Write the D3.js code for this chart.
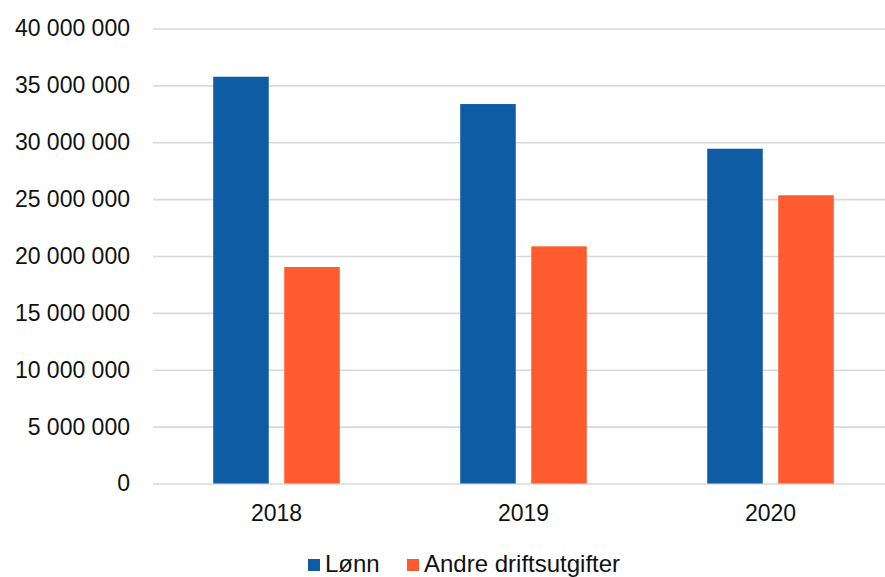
<!DOCTYPE html>
<html>
<head>
<meta charset="utf-8">
<script src="https://cdn.jsdelivr.net/npm/d3@7"></script>
<style>
  body { margin: 0; background: #fff; }
  svg { display: block; font-family: "Liberation Sans", Arial, sans-serif; }
</style>
</head>
<body>
<div id="chart"></div>
<script>
// data
const years = ["2018", "2019", "2020"]
const series = ["Lønn", "Andre driftsutgifter"]
const lonn = [35760000, 33360000, 29430000]
const andre = [19030000, 20850000, 25340000]
const yTicks = [0, 5000000, 10000000, 15000000, 20000000, 25000000, 30000000, 35000000, 40000000]

const colors = ["#0e5ca4", "#ff5b30"]

const W = 885, H = 577
const margin = {top: 28.5, left: 153, bottom: 93.5}
const plotRight = 894 // gridlines run off the right edge of the picture

const svg = d3.select("#chart")
  .append("svg")
  .attr("width", W)
  .attr("height", H)

const nb = d3.formatLocale({decimal: ",", thousands: " ", grouping: [3], currency: ["", ""]})
const fmt = nb.format(",")

// scales
const x = d3.scaleBand()
  .domain(years)
  .range([margin.left, plotRight])
  .padding(0)

const xSub = d3.scaleBand()
  .domain(series)
  .range([0, x.bandwidth()])
  .paddingInner(0.218)
  .paddingOuter(0.848)

const y = d3.scaleLinear()
  .domain([0, 40000000])
  .range([H - margin.bottom, margin.top])

// gridlines + y labels
const yAxis = svg.append("g")
  .attr("transform", `translate(${margin.left},0)`)
  .call(d3.axisLeft(y).tickValues(yTicks).tickFormat(fmt).tickSize(-(plotRight - margin.left)).tickPadding(23))
yAxis.select(".domain").remove()
yAxis.selectAll(".tick line")
  .attr("stroke", "#d9d9d9")
  .attr("stroke-width", 1.6)
yAxis.selectAll(".tick text")
  .attr("fill", "#111")
  .style("font-size", "23px")
  .style("font-family", "Liberation Sans, Arial, sans-serif")

// bars
const rows = years.map((yr, i) => ({year: yr, vals: [lonn[i], andre[i]]}))

const groups = svg.append("g")
  .selectAll("g")
  .data(rows)
  .join("g")
    .attr("transform", d => `translate(${x(d.year)},0)`)

groups.selectAll("rect")
  .data(d => d.vals.map((v, j) => ({key: series[j], value: v, j: j})))
  .join("rect")
    .attr("x", d => xSub(d.key))
    .attr("width", xSub.bandwidth())
    .attr("y", d => y(d.value))
    .attr("height", d => y(0) - y(d.value))
    .attr("fill", d => colors[d.j])

// x labels
const xAxis = svg.append("g")
  .attr("transform", `translate(0,${y(0)})`)
  .call(d3.axisBottom(x).tickSize(0).tickPadding(21))
xAxis.select(".domain").remove()
xAxis.selectAll(".tick text")
  .attr("fill", "#111")
  .style("font-size", "23px")
  .style("font-family", "Liberation Sans, Arial, sans-serif")

// legend
const legendX = [308, 407]
const legend = svg.append("g")
  .selectAll("g")
  .data(series)
  .join("g")
    .attr("transform", (d, i) => `translate(${legendX[i]},559)`)

legend.append("rect")
  .attr("width", 12)
  .attr("height", 12)
  .attr("fill", (d, i) => colors[i])

legend.append("text")
  .attr("x", 17)
  .attr("y", 13)
  .attr("fill", "#111")
  .style("font-size", "24px")
  .text(d => d)
</script>
</body>
</html>
